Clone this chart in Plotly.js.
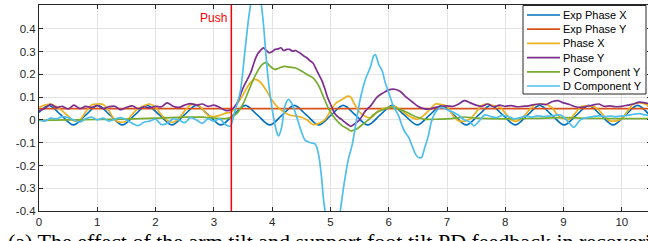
<!DOCTYPE html>
<html>
<head>
<meta charset="utf-8">
<script src="https://cdn.plot.ly/plotly-3.0.1.min.js"></script>
<style>
html,body{margin:0;padding:0;overflow:hidden;background:#fff;width:648px;height:241px;}
#chart{width:651px;height:241px;}
</style>
</head>
<body>
<div id="chart"></div>
<script>
// ---- data ----
const seriesNames = ["Exp Phase X","Exp Phase Y","Phase X","Phase Y","P Component Y","D Component Y"];
const seriesColors = ["#0072BD","#D95319","#EDB120","#7E2F8E","#77AC30","#4DBEEE"];

const tExpX = [0,0.17,0.38,0.59,0.80,1.01,1.22,1.43,1.64,1.85,2.07,2.28,2.49,2.70,2.91,3.12,3.33,3.54,3.75,3.96,4.17,4.38,4.59,4.80,5.01,5.22,5.43,5.64,5.85,6.06,6.27,6.49,6.70,6.91,7.12,7.33,7.54,7.75,7.96,8.17,8.38,8.59,8.80,9.01,9.22,9.43,9.64,9.85,10.06,10.27,10.5];
const expPhaseX = [0.033,0.064,0.021,-0.022,0.021,0.064,0.021,-0.022,0.021,0.064,0.021,-0.022,0.021,0.064,0.021,-0.022,0.021,0.064,0.021,-0.022,0.021,0.064,0.021,-0.022,0.021,0.064,0.021,-0.022,0.021,0.064,0.021,-0.022,0.021,0.064,0.021,-0.022,0.021,0.064,0.021,-0.022,0.021,0.064,0.021,-0.022,0.021,0.064,0.021,-0.022,0.021,0.064,0.013];

const tExpY = [0,10.5];
const expPhaseY = [0.05,0.05];

const tPhaseX = [0,0.1,0.2,0.3,0.4,0.5,0.6,0.7,0.8,0.9,1.0,1.1,1.2,1.3,1.4,1.5,1.6,1.7,1.8,1.9,2.0,2.1,2.2,2.3,2.4,2.5,2.6,2.7,2.8,2.9,3.0,3.1,3.2,3.3,3.4,3.5,3.6,3.7,3.75,3.8,3.9,4.0,4.1,4.2,4.3,4.4,4.5,4.6,4.7,4.8,4.9,5.0,5.1,5.2,5.3,5.35,5.4,5.5,5.6,5.7,5.8,5.9,6.0,6.1,6.2,6.3,6.4,6.5,6.6,6.7,6.8,6.9,7.0,7.1,7.2,7.3,7.4,7.5,7.6,7.7,7.8,7.9,8.0,8.1,8.2,8.3,8.4,8.5,8.6,8.7,8.8,8.9,9.0,9.1,9.2,9.3,9.4,9.5,9.6,9.7,9.8,9.9,10.0,10.1,10.2,10.3,10.4,10.5];
const phaseX = [0.055,0.065,0.07,0.058,0.04,0.017,-0.004,0.0,0.035,0.066,0.07,0.068,0.04,0.0,-0.01,-0.004,0.025,0.05,0.062,0.07,0.055,0.022,-0.002,-0.01,0.008,0.04,0.066,0.068,0.05,0.02,0.015,0.02,0.03,0.035,0.07,0.11,0.155,0.178,0.175,0.165,0.13,0.085,0.055,0.035,0.022,0.017,0.012,0.0,-0.02,-0.015,0.0,0.04,0.075,0.09,0.105,0.1,0.075,0.035,0.015,0.01,0.035,0.05,0.055,0.06,0.045,0.025,0.01,0.003,0.02,0.045,0.07,0.068,0.06,0.02,-0.004,-0.005,0.005,0.035,0.065,0.07,0.063,0.058,0.03,0.0,-0.005,0.01,0.04,0.065,0.07,0.068,0.055,0.02,0.005,0.002,0.03,0.058,0.062,0.06,0.045,0.015,-0.004,-0.004,0.005,0.04,0.07,0.075,0.07,0.05];

const tPhaseY = [0,0.1,0.2,0.3,0.4,0.5,0.6,0.7,0.8,0.9,1.0,1.1,1.2,1.3,1.4,1.5,1.6,1.7,1.8,1.9,2.0,2.1,2.2,2.3,2.4,2.5,2.6,2.7,2.8,2.9,3.0,3.1,3.2,3.3,3.4,3.5,3.6,3.65,3.7,3.75,3.8,3.85,3.9,3.95,4.0,4.05,4.1,4.15,4.2,4.25,4.3,4.35,4.4,4.45,4.5,4.55,4.6,4.65,4.7,4.75,4.8,4.85,4.9,4.95,5.0,5.05,5.1,5.2,5.3,5.35,5.4,5.45,5.5,5.55,5.6,5.7,5.8,5.9,6.0,6.1,6.2,6.3,6.4,6.5,6.6,6.7,6.8,6.9,7.0,7.1,7.2,7.3,7.4,7.5,7.6,7.7,7.8,7.9,8.0,8.1,8.2,8.3,8.4,8.5,8.6,8.7,8.8,8.9,9.0,9.1,9.2,9.3,9.4,9.5,9.6,9.7,9.8,9.9,10.0,10.1,10.2,10.3,10.4,10.5];
const phaseY = [0.04,0.05,0.068,0.055,0.06,0.048,0.065,0.05,0.06,0.055,0.063,0.05,0.058,0.06,0.045,0.055,0.062,0.05,0.058,0.053,0.06,0.058,0.075,0.06,0.055,0.065,0.072,0.065,0.07,0.06,0.065,0.055,0.042,0.045,0.075,0.14,0.19,0.22,0.26,0.29,0.305,0.317,0.305,0.295,0.3,0.31,0.312,0.317,0.305,0.31,0.31,0.302,0.305,0.298,0.29,0.28,0.272,0.26,0.25,0.225,0.2,0.175,0.14,0.1,0.07,0.04,0.02,0.0,-0.02,-0.028,-0.02,-0.01,0.0,0.02,0.04,0.065,0.1,0.118,0.132,0.135,0.125,0.1,0.08,0.06,0.05,0.048,0.055,0.06,0.062,0.06,0.07,0.085,0.075,0.065,0.06,0.07,0.058,0.065,0.06,0.063,0.058,0.06,0.062,0.068,0.07,0.068,0.08,0.085,0.075,0.068,0.058,0.055,0.06,0.065,0.07,0.06,0.062,0.058,0.06,0.065,0.07,0.078,0.075,0.068];

const tPComp = [0,0.5,1.0,1.5,2.0,2.5,2.8,3.0,3.2,3.3,3.4,3.5,3.6,3.7,3.8,3.85,3.9,3.95,4.0,4.05,4.1,4.2,4.3,4.4,4.5,4.6,4.7,4.75,4.8,4.85,4.9,4.95,5.0,5.1,5.2,5.3,5.35,5.45,5.55,5.65,5.75,5.85,5.95,6.05,6.15,6.3,6.45,6.6,6.8,7.0,7.2,7.3,7.5,8.0,8.5,9.0,9.5,10.0,10.5];
const pCompY = [-0.002,0.0,0.002,0.004,0.008,0.012,0.012,0.008,0.006,0.012,0.03,0.07,0.13,0.19,0.235,0.248,0.252,0.24,0.228,0.222,0.226,0.235,0.232,0.228,0.215,0.2,0.185,0.17,0.15,0.12,0.09,0.06,0.035,0.0,-0.025,-0.04,-0.048,-0.04,-0.02,0.0,0.025,0.04,0.05,0.055,0.05,0.035,0.015,0.004,0.003,0.005,0.01,0.013,0.008,0.005,0.007,0.01,0.007,0.006,0.006];

const tDComp = [0,0.1,0.2,0.3,0.4,0.5,0.6,0.7,0.8,0.9,1.0,1.1,1.2,1.3,1.4,1.5,1.6,1.7,1.8,1.9,2.0,2.1,2.2,2.3,2.4,2.5,2.6,2.7,2.8,2.9,3.0,3.1,3.2,3.28,3.35,3.45,3.53,3.6,3.66,3.72,3.78,3.84,3.91,3.96,4.02,4.08,4.11,4.16,4.22,4.28,4.34,4.4,4.45,4.5,4.57,4.66,4.74,4.8,4.85,4.88,4.92,4.98,5.05,5.12,5.18,5.23,5.31,5.37,5.43,5.51,5.6,5.69,5.74,5.77,5.83,5.89,5.94,6.0,6.08,6.17,6.23,6.28,6.34,6.4,6.46,6.51,6.56,6.62,6.68,6.73,6.8,6.9,7.0,7.1,7.2,7.3,7.4,7.46,7.55,7.65,7.75,7.85,7.95,8.05,8.15,8.25,8.35,8.45,8.55,8.65,8.75,8.85,8.95,9.05,9.12,9.18,9.25,9.3,9.4,9.5,9.6,9.7,9.8,9.9,10.0,10.1,10.2,10.3,10.4,10.5];
const dCompY = [0.002,-0.005,0.008,0.005,0.015,0.01,0.0,-0.01,0.005,0.012,0.0,0.008,-0.005,0.003,0.01,0.0,-0.015,-0.025,-0.01,-0.005,0.003,-0.02,-0.015,0.005,0.0,-0.012,0.01,0.0,-0.015,0.005,-0.005,0.005,-0.02,-0.028,0.03,0.12,0.295,0.454,0.55,0.6,0.56,0.45,0.236,0.12,0.018,-0.054,-0.07,-0.035,0.061,0.09,0.07,0.03,-0.01,-0.05,-0.09,-0.1,-0.106,-0.157,-0.26,-0.346,-0.42,-0.5,-0.52,-0.48,-0.38,-0.288,-0.17,-0.113,-0.026,0.09,0.178,0.236,0.28,0.287,0.243,0.214,0.164,0.12,0.061,0.018,-0.026,-0.054,-0.075,-0.113,-0.15,-0.165,-0.165,-0.12,-0.07,-0.01,0.033,0.055,0.045,0.035,0.02,0.0,-0.01,-0.026,-0.005,0.022,0.015,0.01,0.02,0.015,0.005,0.01,0.017,0.012,0.018,0.015,0.017,0.02,0.022,0.0,-0.02,-0.033,-0.01,0.002,0.01,0.015,0.018,0.015,0.017,0.015,0.017,0.02,0.025,0.028,0.022,0.02];

const pushTime = [3.3];
const pushLabel = "Push";
const xTicks = [0,1,2,3,4,5,6,7,8,9,10];
const yTicks = [-0.4,-0.3,-0.2,-0.1,0,0.1,0.2,0.3,0.4];
const yTickText = ["-0.4","-0.3","-0.2","-0.1","0","0.1","0.2","0.3","0.4"];
const caption = "(a) The effect of the arm tilt and support foot tilt PD feedback in recovering from a push";

// ---- geometry (pixels) ----
const W = 651, H = 241, ML = 39, MR = 0, MT = 5, MB = 30;
const PW = W - ML - MR, PH = H - MT - MB;
const px = X => (X - ML) / PW;           // pixel x -> paper x
const py = Y => (H - MB - Y) / PH;       // pixel y -> paper y

// ---- traces ----
const xs = [tExpX,tExpY,tPhaseX,tPhaseY,tPComp,tDComp];
const ys = [expPhaseX,expPhaseY,phaseX,phaseY,pCompY,dCompY];
const traces = seriesNames.map((n,i)=>({
  x: xs[i], y: ys[i], name: n, type: 'scatter', mode: 'lines', showlegend: false,
  line: {color: seriesColors[i], width: 1.7, shape: i===1 ? 'linear' : 'spline', smoothing: 0.9}
}));

// ---- legend (drawn as box + samples + labels) ----
const legBox = {l: 523, r: 646, t: 5.5, b: 94};
const rowY0 = 15, rowStep = 14.2;
const shapes = [
  {type: 'line', xref: 'x', yref: 'paper', x0: pushTime[0], x1: pushTime[0], y0: 0, y1: 1,
   line: {color: '#FF0000', width: 1.5}},
  {type: 'rect', xref: 'paper', yref: 'paper', x0: px(legBox.l), x1: px(legBox.r), y0: py(legBox.b), y1: py(legBox.t),
   fillcolor: '#FFFFFF', line: {color: '#262626', width: 1}, layer: 'above'}
];
const annotations = [
  {xref: 'x', yref: 'paper', x: pushTime[0], y: 1, xanchor: 'right', yanchor: 'top', xshift: -2, yshift: -4,
   text: pushLabel, showarrow: false, font: {size: 12, color: '#FF0000'}},
  {xref: 'paper', yref: 'paper', x: px(6), y: 0, xanchor: 'left', yanchor: 'top', yshift: -16,
   text: caption, showarrow: false, font: {family: 'Liberation Serif, Times New Roman, serif', size: 22, color: '#000'}}
];
seriesNames.forEach((n,i)=>{
  const Y = rowY0 + i*rowStep;
  shapes.push({type: 'line', xref: 'paper', yref: 'paper', x0: px(527), x1: px(560), y0: py(Y), y1: py(Y),
               line: {color: seriesColors[i], width: 1.7}, layer: 'above'});
  annotations.push({xref: 'paper', yref: 'paper', x: px(561), y: py(Y), xanchor: 'left', yanchor: 'middle',
               text: n, showarrow: false, font: {size: 11, color: '#000'}});
});

const axisCol = '#262626';
const layout = {
  width: W, height: H,
  margin: {l: ML, r: MR, t: MT, b: MB},
  paper_bgcolor: '#fff', plot_bgcolor: '#fff',
  showlegend: false,
  font: {family: 'Liberation Sans, Arial, sans-serif', size: 11.5, color: axisCol},
  xaxis: {
    range: [0, 10.5], tickvals: xTicks, ticktext: xTicks.map(String),
    showgrid: true, gridcolor: '#E3E3E3', gridwidth: 1, zeroline: false,
    showline: true, linecolor: axisCol, linewidth: 1, mirror: 'ticks',
    ticks: 'inside', ticklen: 4, tickcolor: axisCol, tickfont: {size: 11.5, color: axisCol}
  },
  yaxis: {
    range: [-0.4, 0.505], tickvals: yTicks, ticktext: yTickText,
    showgrid: true, gridcolor: '#E3E3E3', gridwidth: 1, zeroline: false,
    showline: true, linecolor: axisCol, linewidth: 1, mirror: 'ticks',
    ticks: 'inside', ticklen: 4, tickcolor: axisCol, tickfont: {size: 11.5, color: axisCol}
  },
  shapes: shapes,
  annotations: annotations
};
Plotly.newPlot('chart', traces, layout, {staticPlot: true, displayModeBar: false});
</script>
</body>
</html>
